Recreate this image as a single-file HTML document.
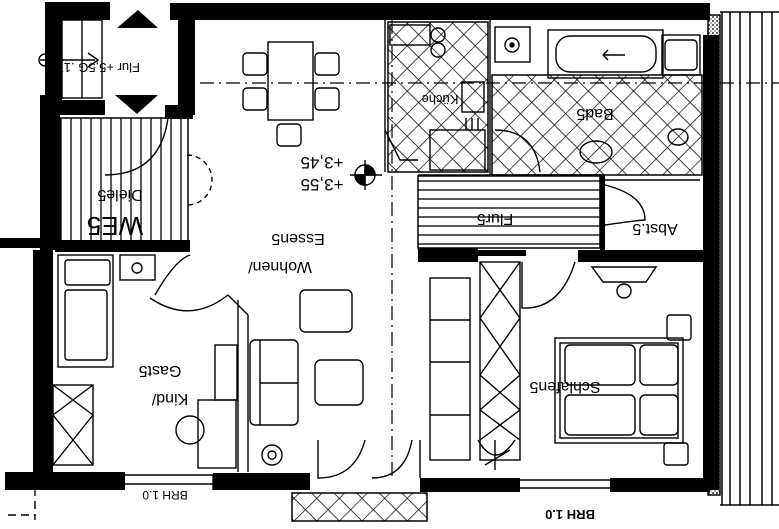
<!DOCTYPE html>
<html><head><meta charset="utf-8"><style>
html,body{margin:0;padding:0;background:#fff;width:779px;height:529px;overflow:hidden}
svg{display:block}
text{font-family:"Liberation Sans",sans-serif;fill:#000}
</style></head><body>
<svg width="779" height="529" viewBox="0 0 779 529" xmlns="http://www.w3.org/2000/svg">
<defs>
<pattern id="diag" width="16" height="16" patternUnits="userSpaceOnUse" patternTransform="rotate(45)">
<rect width="16" height="16" fill="#fff"/><path d="M0 0V16M0 0H16" stroke="#000" stroke-width="1.4"/></pattern>
<pattern id="vs" width="10" height="10" patternUnits="userSpaceOnUse"><rect width="10" height="10" fill="#fff"/><path d="M1 0V10" stroke="#000" stroke-width="1.3"/></pattern>
<pattern id="hs" width="10" height="9" patternUnits="userSpaceOnUse"><rect width="10" height="9" fill="#fff"/><path d="M0 1H10" stroke="#000" stroke-width="1.3"/></pattern>
<pattern id="dots" width="4" height="4" patternUnits="userSpaceOnUse"><rect width="4" height="4" fill="#fff"/><circle cx="1" cy="1" r="1" fill="#333"/><circle cx="3" cy="3" r="0.8" fill="#555"/></pattern>
</defs>
<g fill="none" stroke="#000" stroke-width="1.5">
<rect x="388" y="22" width="100" height="150" fill="url(#diag)"/>
<rect x="492" y="75" width="210" height="100" fill="url(#diag)"/>
<rect x="60" y="118" width="128" height="124" fill="url(#vs)"/>
<rect x="418" y="176" width="182" height="72" fill="url(#hs)"/>
<rect x="292" y="493" width="135" height="28" fill="url(#diag)"/>
<rect x="708" y="15" width="12" height="480" fill="url(#dots)"/>
<path d="M722 12V505M730 12V505M740 12V505M750 12V505M762 12V505M772 12V505M720 12H779M720 505H779"/>
</g>
<g fill="#000">
<rect x="45" y="2" width="65" height="18"/>
<rect x="170" y="3" width="540" height="17"/>
<rect x="45" y="2" width="17" height="98"/>
<rect x="40" y="95" width="20" height="155"/>
<rect x="33" y="250" width="20" height="225"/>
<rect x="178" y="10" width="17" height="105"/>
<rect x="55" y="100" width="50" height="15"/>
<rect x="165" y="105" width="28" height="14"/>
<rect x="55" y="240" width="135" height="12"/>
<rect x="0" y="238" width="40" height="10"/>
<rect x="5" y="472" width="120" height="18"/>
<rect x="213" y="473" width="97" height="17"/>
<rect x="420" y="478" width="100" height="14"/>
<rect x="610" y="478" width="100" height="14"/>
<rect x="703" y="35" width="16" height="455"/>
<rect x="418" y="248" width="60" height="14"/>
<rect x="578" y="250" width="130" height="12"/>
<rect x="476" y="250" width="50" height="6"/>
<rect x="600" y="175" width="5" height="75"/>
<path d="M117 28L158 28L138 10Z"/>
<path d="M115 95L158 95L137 114Z"/>
</g>
<g fill="none" stroke="#000" stroke-width="1.4">
<rect x="62" y="20" width="40" height="78"/><path d="M82 20V98"/>
<path d="M40 60H95M88 53L98 60L88 67"/><circle cx="45" cy="60" r="6"/>
<path d="M105 175Q160 175 168 118"/>
<path d="M187 155A22 22 0 0 1 187 205" stroke-dasharray="5 4"/>
<path d="M385 20V172M490 20V175M418 175H602M600 180H700"/>
<path d="M385 130L400 160H418"/>
<rect x="268" y="42" width="45" height="78"/>
<rect x="243" y="53" width="24" height="22" rx="4"/><rect x="315" y="53" width="24" height="22" rx="4"/>
<rect x="243" y="88" width="24" height="22" rx="4"/><rect x="315" y="88" width="24" height="22" rx="4"/>
<rect x="277" y="124" width="24" height="22" rx="4"/>
<circle cx="365" cy="175" r="10"/>
<path d="M350 175H382M365 160V190"/>
<path d="M365 165A10 10 0 0 1 375 175H365Z" fill="#000"/>
<path d="M355 175A10 10 0 0 0 365 185V175Z" fill="#000"/>
<path d="M200 83H779M392 20V480" stroke-dasharray="14 5 2 5" stroke-width="1.2"/>
<rect x="390" y="25" width="40" height="20"/><circle cx="438" cy="35" r="7"/><circle cx="438" cy="50" r="7"/>
<rect x="462" y="82" width="22" height="30"/><path d="M466 118V130M472 118V130M478 118V130"/>
<rect x="430" y="130" width="55" height="40"/>
<rect x="495" y="27" width="35" height="35"/><circle cx="512" cy="45" r="7"/><circle cx="512" cy="45" r="2" fill="#000"/>
<rect x="548" y="30" width="115" height="48"/><rect x="556" y="36" width="100" height="36" rx="14"/>
<rect x="662" y="35" width="38" height="40"/><rect x="665" y="40" width="32" height="30" rx="4"/>
<path d="M625 55L603 55M603 55L608 50M603 55L608 60"/>
<ellipse cx="596" cy="152" rx="16" ry="11"/>
<ellipse cx="678" cy="137" rx="10" ry="8"/>
<path d="M495 130Q535 130 540 172"/>
<path d="M605 185Q645 195 645 220Q640 220 605 225"/>
<path d="M522 262V308Q560 310 575 262"/>
<path d="M592 267H656L646 282H603Z"/><circle cx="624" cy="291" r="7"/>
<rect x="555" y="338" width="128" height="105"/><rect x="560" y="343" width="118" height="95"/>
<rect x="565" y="345" width="70" height="40" rx="5"/><rect x="640" y="345" width="38" height="40" rx="5"/>
<rect x="565" y="395" width="70" height="40" rx="5"/><rect x="640" y="395" width="38" height="40" rx="5"/>
<rect x="667" y="315" width="24" height="25" rx="3"/><rect x="664" y="443" width="24" height="22" rx="3"/>
<rect x="480" y="262" width="40" height="198"/>
<path d="M480 262L520 318M520 262L480 318M480 318L520 375M520 318L480 375M480 375L520 410M520 375L480 410M480 410L520 440M520 410L480 440"/>
<rect x="430" y="278" width="40" height="182"/><path d="M430 320H470M430 362H470M430 415H470"/>
<path d="M478 440Q495 470 515 440M495 440V470M485 465L510 450"/>
<rect x="58" y="255" width="55" height="112"/><rect x="65" y="260" width="45" height="25" rx="3"/><rect x="65" y="290" width="42" height="70" rx="3"/>
<rect x="120" y="255" width="35" height="25"/><circle cx="137" cy="268" r="5"/>
<rect x="53" y="385" width="40" height="80"/><path d="M53 385L93 415M93 385L53 415M53 415L93 465M93 415L53 465"/>
<path d="M155 295Q175 260 190 255M150 298Q190 325 228 295L248 315V472M238 300L238 472"/>
<rect x="215" y="345" width="22" height="55"/><rect x="198" y="400" width="38" height="68"/>
<ellipse cx="190" cy="430" rx="14" ry="14"/>
<rect x="250" y="340" width="48" height="85" rx="5"/><path d="M260 340V425M260 383H298"/>
<rect x="300" y="290" width="52" height="42" rx="5"/>
<rect x="315" y="360" width="48" height="45" rx="6"/>
<circle cx="272" cy="455" r="10"/><circle cx="272" cy="455" r="4"/>
<path d="M318 440V478Q355 478 365 440M372 478Q405 478 412 440M420 440V478"/>
<path d="M125 475H213V490M125 484H213M520 480H610M520 488H610"/>
<path d="M35 475V520M8 515H35" stroke-dasharray="8 5"/>
</g>
<g font-size="16">
<text transform="rotate(180 140 68)" x="140" y="73" font-size="13">Flur  +5,5G .17.4</text>
<text transform="rotate(180 120 196)" x="120" y="202" text-anchor="middle">Diele5</text>
<text transform="rotate(180 115 225)" x="115" y="233" font-size="26" text-anchor="middle">WE5</text>
<text transform="rotate(180 322 163)" x="322" y="169" font-size="17" text-anchor="middle">+3,45</text>
<text transform="rotate(180 322 185)" x="322" y="191" font-size="17" text-anchor="middle">+3,55</text>
<text transform="rotate(180 298 240)" x="298" y="246" text-anchor="middle">Essen5</text>
<text transform="rotate(180 280 268)" x="280" y="274" text-anchor="middle">Wohnen/</text>
<text transform="rotate(180 160 372)" x="160" y="378" text-anchor="middle">Gast5</text>
<text transform="rotate(180 170 400)" x="170" y="406" text-anchor="middle">Kind/</text>
<text transform="rotate(180 495 220)" x="495" y="226" text-anchor="middle">Flur5</text>
<text transform="rotate(180 655 230)" x="655" y="236" text-anchor="middle">Abst.5</text>
<text transform="rotate(180 595 115)" x="595" y="121" text-anchor="middle">Bad5</text>
<text transform="rotate(180 565 388)" x="565" y="394" text-anchor="middle">Schlafen5</text>
<text transform="rotate(180 440 100)" x="440" y="105" text-anchor="middle" font-size="13">Küche</text>
<text transform="rotate(180 165 496)" x="165" y="501" font-size="12" text-anchor="middle">BRH 1.0</text>
<text transform="rotate(180 570 515)" x="570" y="520" font-size="13" font-weight="bold" text-anchor="middle">BRH 1.0</text>
</g>
</svg>
</body></html>
